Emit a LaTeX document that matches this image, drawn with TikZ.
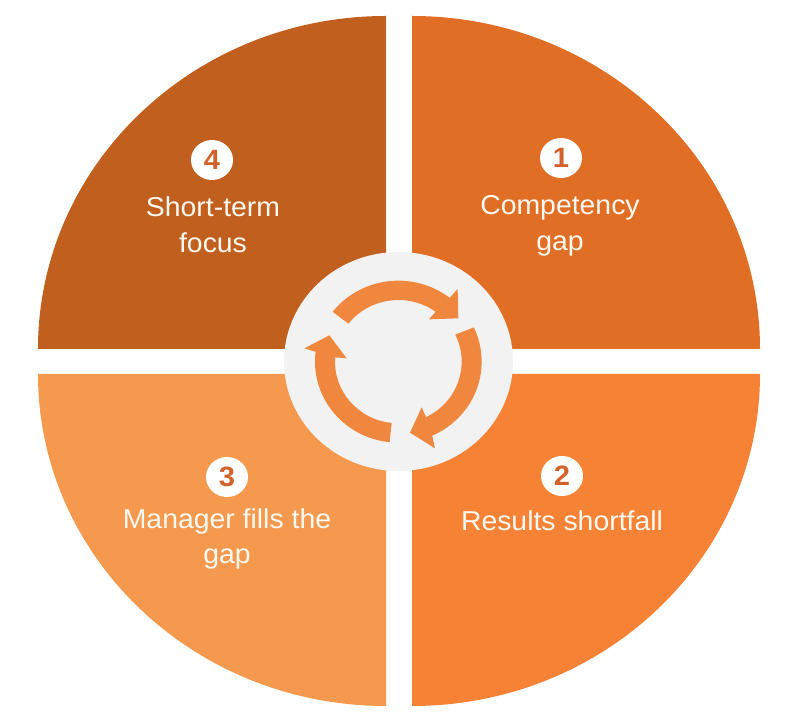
\documentclass[tikz,border=0pt]{standalone}
\usepackage{fontspec}
\setmainfont[FakeStretch=1.04]{Liberation Sans}
\definecolor{qone}{HTML}{E06E25}
\definecolor{qtwo}{HTML}{F58235}
\definecolor{qthree}{HTML}{F4994E}
\definecolor{qfour}{HTML}{C05F1E}
\definecolor{hubc}{HTML}{F2F2F2}
\definecolor{arrc}{HTML}{F0873F}
\definecolor{numc}{HTML}{D2622A}
\definecolor{txtc}{HTML}{FFF9F2}
\tikzset{
  badge/.style={draw=none,fill=white,ellipse,minimum width=42pt,minimum height=40pt,inner sep=0pt,
    text=numc,font=\fontsize{28}{28}\selectfont\bfseries},
  label/.style={text=txtc,align=center,inner sep=0pt,font=\fontsize{27.3}{35.5}\selectfont},
  cyc/.style={fill=arrc,draw=none}
}
\usetikzlibrary{shapes.geometric}
\begin{document}
\begin{tikzpicture}[x=1pt,y=1pt]
\useasboundingbox (0,0) rectangle (790,720);
\fill[white] (0,0) rectangle (790,720);
\fill[qone]   (412,371) -- (412,704) arc[start angle=90,end angle=0,x radius=348,y radius=333] -- cycle;
\fill[qtwo]   (412,346) -- (760,346) arc[start angle=0,end angle=-90,x radius=348,y radius=332] -- cycle;
\fill[qthree] (386,346) -- (386,14) arc[start angle=270,end angle=180,x radius=348,y radius=332] -- cycle;
\fill[qfour]  (386,371) -- (38,371) arc[start angle=180,end angle=90,x radius=348,y radius=333] -- cycle;
\node[draw=none,fill=hubc,ellipse,minimum width=229pt,minimum height=219pt,inner sep=0pt] (hub) at (398.5,358.5) {};
\begin{scope}[shift={(398.33,358.33)},scale=1/3]
\fill[cyc] (142:250 and 243) arc[start angle=142,end angle=52,x radius=250,y radius=243]
  -- (178,218) -- (180,130) -- (92,127) -- (54:190 and 185)
  arc[start angle=54,end angle=142,x radius=190,y radius=185] -- cycle;
\fill[cyc] (25:250 and 243) arc[start angle=25,end angle=-66,x radius=250,y radius=243]
  -- (110,-260) -- (35,-213) -- (70,-137) -- (-64:190 and 185)
  arc[start angle=-64,end angle=26,x radius=190,y radius=185] -- cycle;
\fill[cyc] (264:250 and 243) arc[start angle=264,end angle=173,x radius=250,y radius=243]
  -- (-282,40) -- (-207,79) -- (-155,10) -- (176:190 and 185)
  arc[start angle=176,end angle=264,x radius=190,y radius=185] -- cycle;
\end{scope}
\node[badge] (b1) at (561,562) {1};
\node[badge] (b2) at (562,244) {2};
\node[badge] (b3) at (227,243) {3};
\node[badge] (b4) at (212,560) {4};
\node[label,anchor=base] (t1) at (560,469.5) {Competency\\gap};
\node[label,anchor=base] (t2) at (562,189) {Results shortfall};
\node[label,anchor=base] (t3) at (227,156) {Manager fills the\\gap};
\node[label,anchor=base] (t4) at (213,467.5) {Short-term\\focus};
\end{tikzpicture}
\end{document}
